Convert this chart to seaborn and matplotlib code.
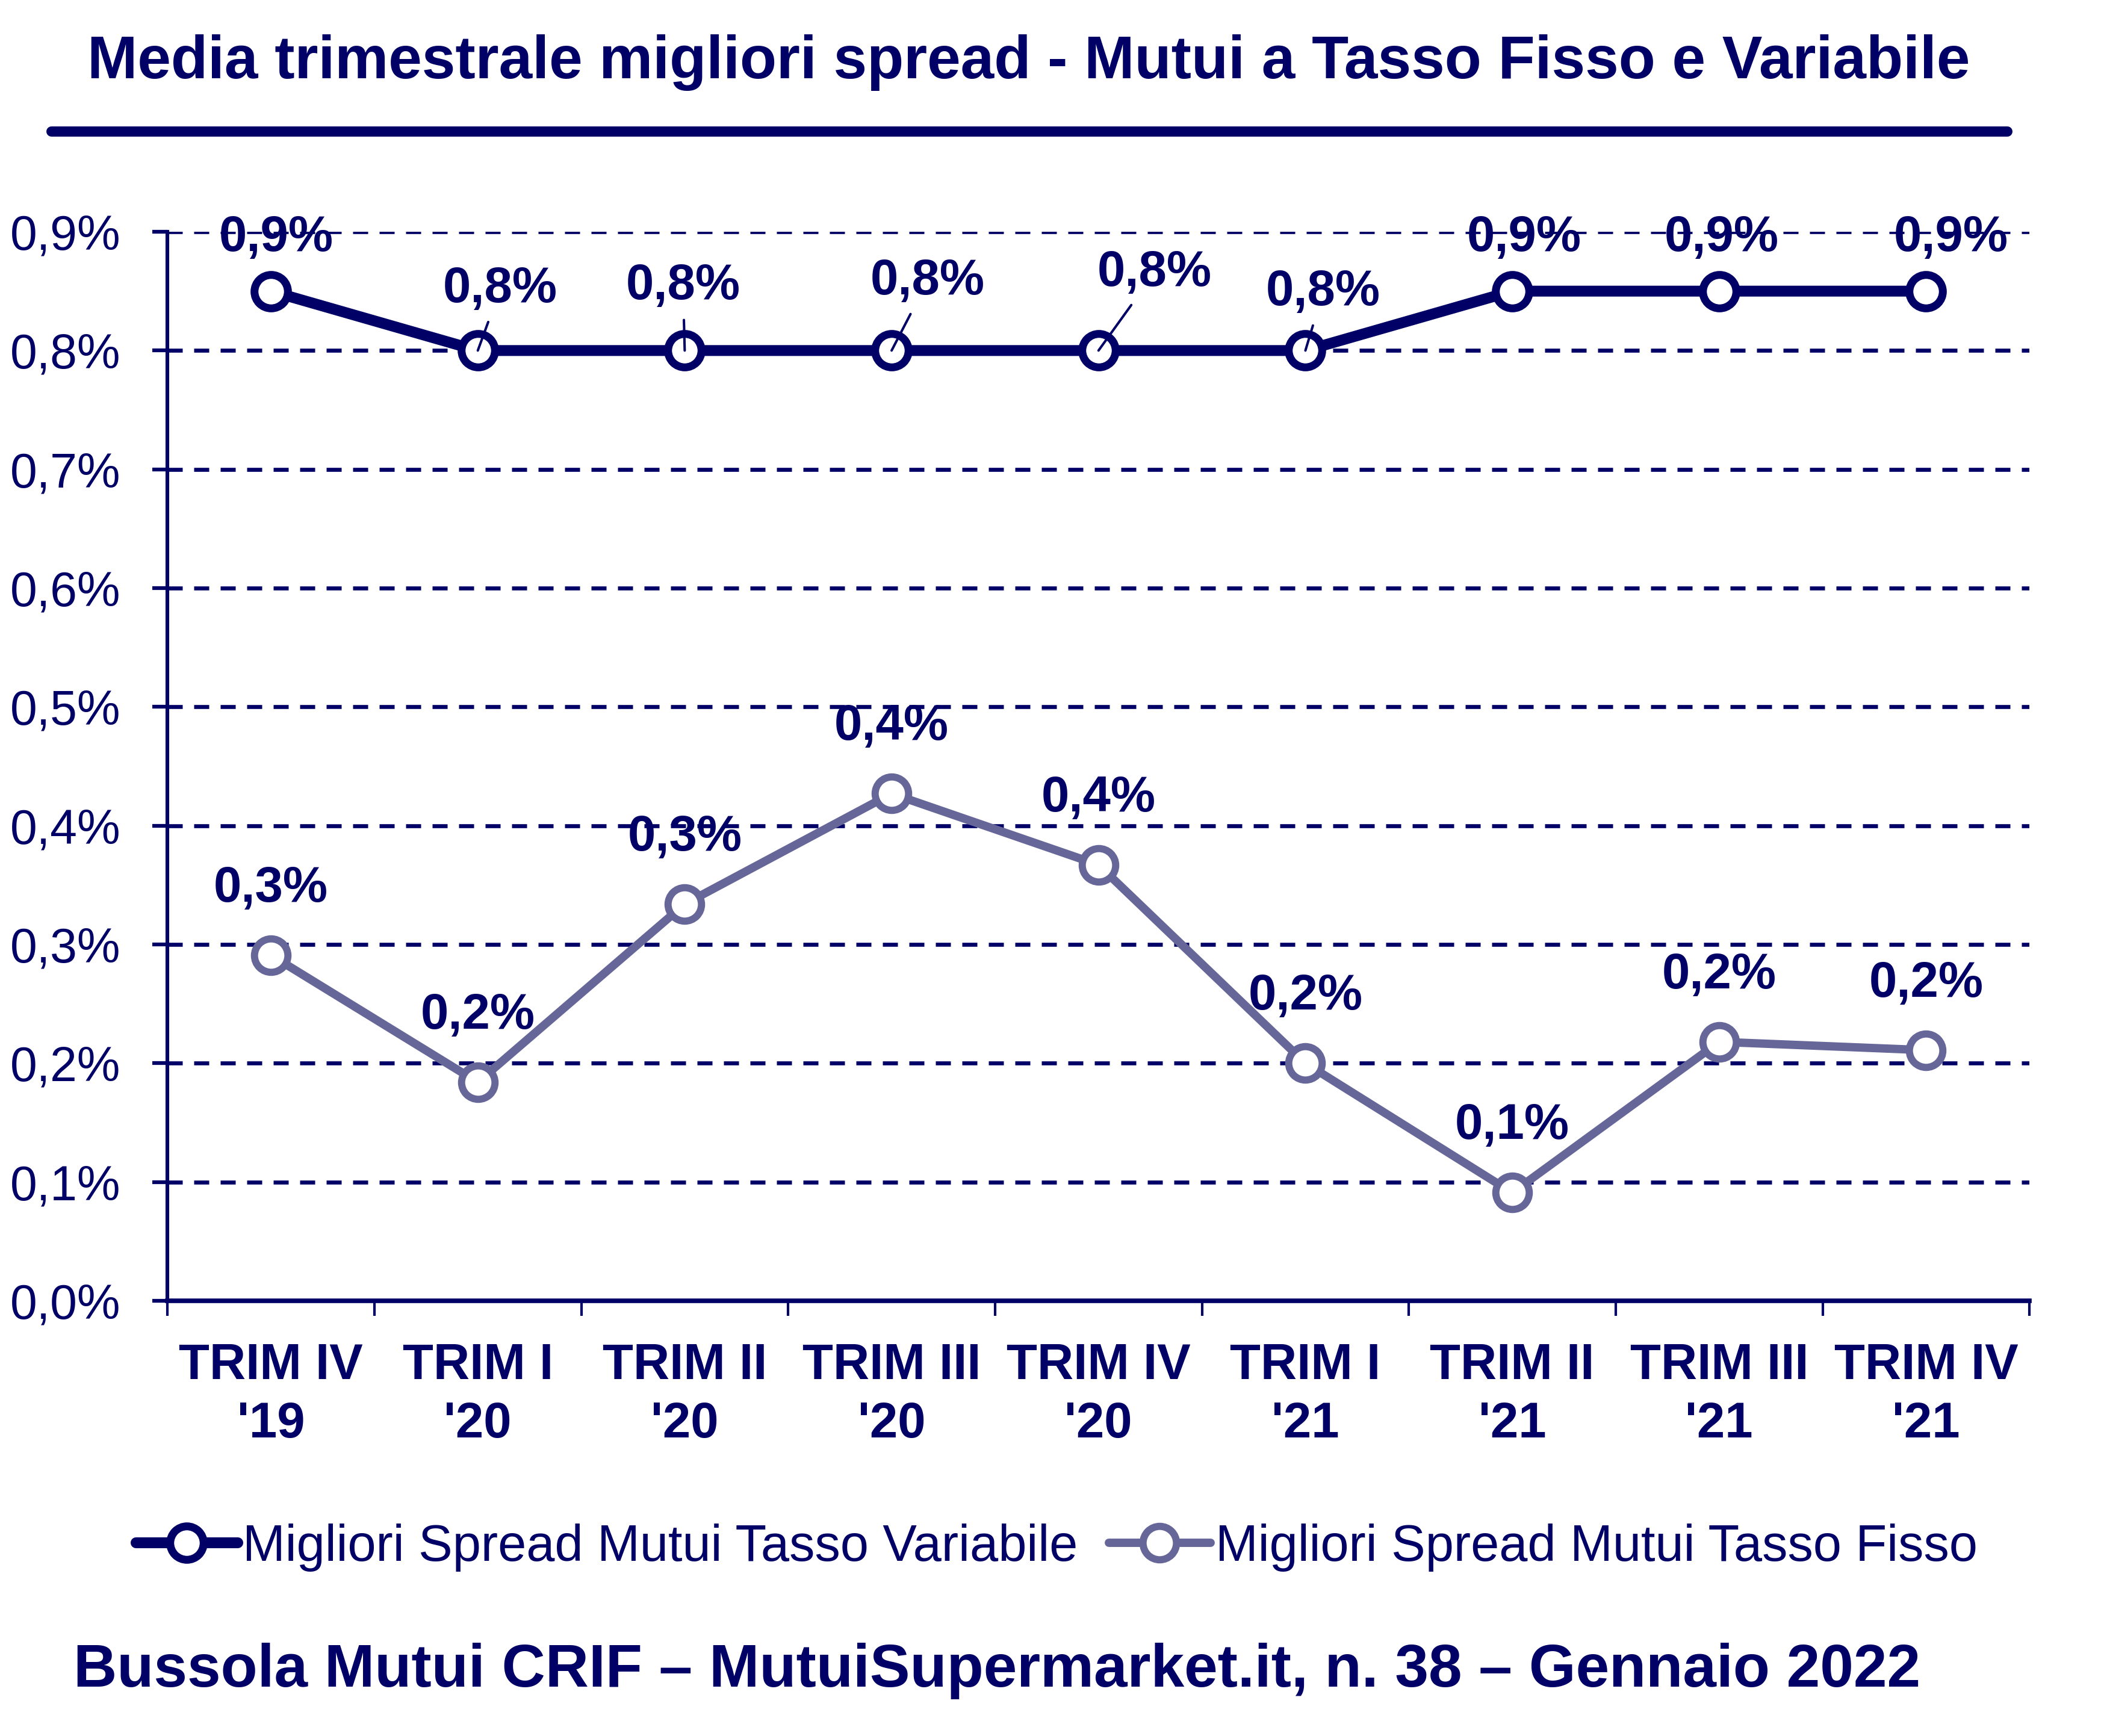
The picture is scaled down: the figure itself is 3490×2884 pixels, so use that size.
# Media trimestrale migliori spread - mutui tasso fisso e variabile
import pandas as pd
import seaborn as sns
import matplotlib.pyplot as plt
from matplotlib.lines import Line2D
from matplotlib.ticker import FixedLocator

trimestri = ["TRIM IV\n'19", "TRIM I\n'20", "TRIM II\n'20", "TRIM III\n'20", "TRIM IV\n'20",
             "TRIM I\n'21", "TRIM II\n'21", "TRIM III\n'21", "TRIM IV\n'21"]
variabile = [0.85, 0.80, 0.80, 0.80, 0.80, 0.80, 0.85, 0.85, 0.85]
fisso = [0.291, 0.184, 0.334, 0.427, 0.367, 0.200, 0.091, 0.218, 0.211]
lab_variabile = ["0,9%", "0,8%", "0,8%", "0,8%", "0,8%", "0,8%", "0,9%", "0,9%", "0,9%"]
lab_fisso = ["0,3%", "0,2%", "0,3%", "0,4%", "0,4%", "0,2%", "0,1%", "0,2%", "0,2%"]
y_ticks = [0.0, 0.1, 0.2, 0.3, 0.4, 0.5, 0.6, 0.7, 0.8, 0.9]
y_labels = ["0,0%", "0,1%", "0,2%", "0,3%", "0,4%", "0,5%", "0,6%", "0,7%", "0,8%", "0,9%"]

NAVY = "#000066"
GREY = "#666699"

sns.set_style("white")
plt.rcParams['font.family'] = ['Liberation Sans', 'DejaVu Sans']

df = pd.DataFrame({"trim": trimestri, "var": variabile, "fix": fisso})

fig = plt.figure(figsize=(34.9, 28.84), dpi=100)
ax = fig.add_axes([0.0797, 0.2507, 0.8863, 0.6158])

sns.lineplot(data=df, x="trim", y="var", sort=False, color=NAVY, lw=13,
             marker="o", markersize=40, markerfacecolor="white", markeredgewidth=9.4,
             markeredgecolor=NAVY, label="Migliori Spread Mutui Tasso Variabile", ax=ax, zorder=3)
sns.lineplot(data=df, x="trim", y="fix", sort=False, color=GREY, lw=10,
             marker="o", markersize=40, markerfacecolor="white", markeredgewidth=8.6,
             markeredgecolor=GREY, label="Migliori Spread Mutui Tasso Fisso", ax=ax, zorder=3)

ax.set_xlim(-0.5, 8.5)
ax.set_ylim(0, 0.9)
ax.set(xlabel="", ylabel="")

# griglia tratteggiata + assi
ax.set_yticks(y_ticks)
ax.set_yticklabels(y_labels)
for v in y_ticks[1:]:
    ax.axhline(v, color=NAVY, lw=4.8, linestyle=(0, (3.75, 2.85)), zorder=1)
for s in ["top", "right"]:
    ax.spines[s].set_visible(False)
ax.spines["left"].set_color(NAVY)
ax.spines["left"].set_linewidth(4.4)
ax.spines["bottom"].set_color(NAVY)
ax.spines["bottom"].set_linewidth(5.5)

ax.set_xticks(range(len(trimestri)))
ax.set_xticklabels(trimestri, fontweight="bold", linespacing=1.3)
ax.xaxis.set_minor_locator(FixedLocator([i - 0.5 for i in range(len(trimestri) + 1)]))
ax.tick_params(axis="x", which="major", length=0, pad=50, labelsize=60, labelcolor=NAVY)
ax.tick_params(axis="x", which="minor", length=18, width=3, color=NAVY, direction="out", bottom=True)
ax.tick_params(axis="y", length=18, width=4.5, color=NAVY, pad=38, labelsize=58,
               labelcolor=NAVY, left=True)

# etichette dati
off_var = [(6, 64), (27, 74), (-2, 77), (43, 83), (67, 93), (21, 70), (14, 64), (3, 64), (30, 64)]
leader = [False, True, True, True, True, True, False, False, False]
for i, (v, t) in enumerate(zip(variabile, lab_variabile)):
    arrow = dict(arrowstyle="-", color=NAVY, lw=2.9, shrinkA=10, shrinkB=0) if leader[i] else None
    ax.annotate(t, xy=(i, v), xytext=off_var[i], textcoords="offset points",
                ha="center", va="center", fontsize=60, fontweight="bold", color=NAVY,
                arrowprops=arrow, zorder=5)
for i, (v, t) in enumerate(zip(fisso, lab_fisso)):
    ax.annotate(t, xy=(i, v), xytext=(0, 80), textcoords="offset points",
                ha="center", va="center", fontsize=60, fontweight="bold", color=NAVY, zorder=5)

ax.legend(loc="center", bbox_to_anchor=(0.503, 0.1085), bbox_transform=fig.transFigure,
          ncol=2, frameon=False, fontsize=61, labelcolor=NAVY, handlelength=2.0,
          handletextpad=0.1, columnspacing=0.6)

fig.text(0.4897, 0.9549, "Media trimestrale migliori spread - Mutui a Tasso Fisso e Variabile",
         ha="center", va="baseline", fontsize=72, fontweight="bold", color=NAVY)
fig.add_artist(Line2D([0.0244, 0.9553], [0.9244, 0.9244], lw=12.2, color=NAVY))
fig.text(0.035, 0.0284, "Bussola Mutui CRIF \u2013 MutuiSupermarket.it, n. 38 \u2013 Gennaio 2022",
         ha="left", va="baseline", fontsize=72, fontweight="bold", color=NAVY)

plt.savefig("out.png", dpi=100)
